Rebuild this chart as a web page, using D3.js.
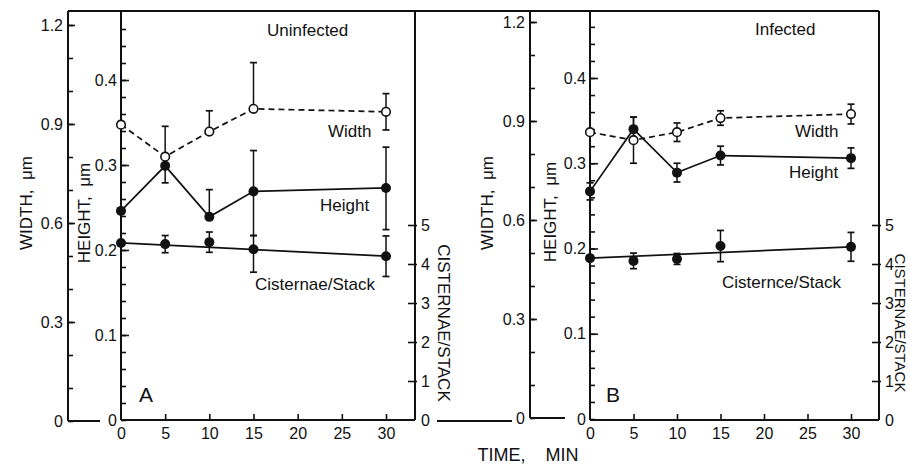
<!DOCTYPE html>
<html>
<head>
<meta charset="utf-8">
<script src="https://cdn.jsdelivr.net/npm/d3@7/dist/d3.min.js"></script>
<style>
  html, body { margin: 0; padding: 0; background: #fff; }
  svg { display: block; }
  text { font-family: "Liberation Sans", Arial, sans-serif; fill: #111; }
</style>
</head>
<body>
<svg id="chart" width="910" height="465"></svg>
<script>
// ---------------- DATA ----------------
const times = [0, 5, 10, 15, 30];
const xTickValues = [0, 5, 10, 15, 20, 25, 30];
const widthTickValues = [0, 0.3, 0.6, 0.9, 1.2];
const heightTickValues = [0, 0.1, 0.2, 0.3, 0.4];
const cistTickValues = [0, 1, 2, 3, 4, 5];

const panelLetters = ["A", "B"];
const panelTitles = ["Uninfected", "Infected"];
const seriesLabelsA = ["Width", "Height", "Cisternae/Stack"];
const seriesLabelsB = ["Width", "Height", "Cisternce/Stack"];
const axisTitleWidth = "WIDTH,  \u03BCm";
const axisTitleHeight = "HEIGHT,  \u03BCm";
const axisTitleCist = "CISTERNAE/STACK";
const axisTitleTime = "TIME,    MIN";

// Panel A (uninfected)
const widthA     = [0.898, 0.801, 0.877, 0.946, 0.937];
const widthAUp   = [0, 0.092, 0.063, 0.140, 0.055];
const widthADn   = [0, 0, 0, 0, 0.055];
const heightA    = [0.246, 0.299, 0.239, 0.269, 0.273];
const heightAUp  = [0, 0, 0.032, 0.048, 0.048];
const heightADn  = [0, 0.020, 0, 0.052, 0.049];
const cistA      = [4.54, 4.51, 4.56, 4.38, 4.20];
const cistAUp    = [0, 0.22, 0.26, 0.35, 0.52];
const cistADn    = [0, 0.22, 0.26, 0.59, 0.52];

// Panel B (infected)
const widthB     = [0.866, 0.842, 0.866, 0.909, 0.921];
const widthBUp   = [0, 0.070, 0.028, 0.022, 0.030];
const widthBDn   = [0, 0.070, 0.028, 0.022, 0.030];
const heightB    = [0.267, 0.340, 0.289, 0.309, 0.306];
const heightBUp  = [0.010, 0.014, 0.011, 0.011, 0.012];
const heightBDn  = [0.010, 0.014, 0.011, 0.011, 0.012];
const cistB      = [4.15, 4.08, 4.13, 4.46, 4.44];
const cistBUp    = [0, 0.20, 0.14, 0.40, 0.37];
const cistBDn    = [0, 0.20, 0.14, 0.40, 0.37];

// ---------------- LAYOUT ----------------
const svg = d3.select("#chart");
const FONT = 16;
const TOP = 11;

const panels = [
  {
    letter: panelLetters[0], title: panelTitles[0], labels: seriesLabelsA,
    width: [widthA, widthAUp, widthADn], height: [heightA, heightAUp, heightADn], cist: [cistA, cistAUp, cistADn],
    wX: 68, wRange: [421, 25], hX: 121, hRange: [420, 80], cX: 415, cRange: [420, 225],
    xRange: [121, 386], bottom: 420,
    wBottomEnd: 100,
    titlePos: [267, 36], letterPos: [139, 402],
    labelPos: [[328, 137], [320, 211], [255, 290]],
    wTitle: [32, 203], hTitle: [90, 213], cTitle: [438, 323], cFont: 17
  },
  {
    letter: panelLetters[1], title: panelTitles[1], labels: seriesLabelsB,
    width: [widthB, widthBUp, widthBDn], height: [heightB, heightBUp, heightBDn], cist: [cistB, cistBUp, cistBDn],
    wX: 530, wRange: [418, 22], hX: 590, hRange: [419, 78], cX: 879, cRange: [420, 225],
    xRange: [590, 851], bottom: 420,
    wBottomEnd: 565,
    titlePos: [755, 35], letterPos: [606, 402],
    labelPos: [[795, 137], [789, 178], [722, 288]],
    wTitle: [493, 203], hTitle: [556, 212], cTitle: [895, 323], cFont: 15
  }
];

const fmt = v => v === 0 ? "0" : d3.format(".1f")(v);

function styleAxis(sel, fontSize) {
  sel.selectAll("text").style("font-size", fontSize + "px").attr("fill", "#111");
  sel.selectAll("line").attr("stroke", "#111").attr("stroke-width", 1.6);
  sel.select(".domain").remove();
}

function errorBars(g, x, y, vals, up, dn) {
  const cap = 3.5;
  vals.forEach((v, i) => {
    if (up[i] <= 0 && dn[i] <= 0) return;
    const cx = x(times[i]);
    const y1 = y(v + up[i]), y2 = y(v - dn[i]);
    g.append("line").attr("x1", cx).attr("x2", cx).attr("y1", y1).attr("y2", y2)
      .attr("stroke", "#111").attr("stroke-width", 1.5);
    if (up[i] > 0) g.append("line").attr("x1", cx - cap).attr("x2", cx + cap).attr("y1", y1).attr("y2", y1)
      .attr("stroke", "#111").attr("stroke-width", 1.7);
    if (dn[i] > 0) g.append("line").attr("x1", cx - cap).attr("x2", cx + cap).attr("y1", y2).attr("y2", y2)
      .attr("stroke", "#111").attr("stroke-width", 1.7);
  });
}

panels.forEach(p => {
  const g = svg.append("g");
  const x = d3.scaleLinear().domain([0, 30]).range(p.xRange);
  const w = d3.scaleLinear().domain([0, 1.2]).range(p.wRange);
  const h = d3.scaleLinear().domain([0, 0.4]).range(p.hRange);
  const c = d3.scaleLinear().domain([0, 5]).range(p.cRange);

  // frame lines
  const frame = g.append("g").attr("stroke", "#111").attr("stroke-width", 2).attr("fill", "none");
  frame.append("line").attr("x1", p.wX).attr("x2", p.wX).attr("y1", TOP).attr("y2", p.wRange[0]);
  frame.append("line").attr("x1", p.wX).attr("x2", p.wBottomEnd).attr("y1", p.wRange[0]).attr("y2", p.wRange[0]);
  frame.append("line").attr("x1", p.hX).attr("x2", p.hX).attr("y1", TOP).attr("y2", p.bottom);
  frame.append("line").attr("x1", p.hX).attr("x2", p.cX).attr("y1", p.bottom).attr("y2", p.bottom);
  frame.append("line").attr("x1", p.cX).attr("x2", p.cX).attr("y1", TOP).attr("y2", p.bottom);

  // width axis
  const wMinor = g.append("g").attr("transform", `translate(${p.wX},0)`)
    .call(d3.axisLeft(w).tickValues(d3.range(0, 1.25, 0.1)).tickSize(-5).tickFormat(""));
  styleAxis(wMinor, FONT);
  const wAxis = g.append("g").attr("transform", `translate(${p.wX},0)`)
    .call(d3.axisLeft(w).tickValues(widthTickValues).tickSize(-7).tickPadding(5).tickFormat(fmt));
  styleAxis(wAxis, FONT);
  wAxis.selectAll(".tick").filter(d => d === 0).select("line").remove();

  // height axis
  const hMinor = g.append("g").attr("transform", `translate(${p.hX},0)`)
    .call(d3.axisLeft(h).tickValues(d3.range(0, 0.465, 0.02)).tickSize(-5).tickFormat(""));
  styleAxis(hMinor, FONT);
  const hAxis = g.append("g").attr("transform", `translate(${p.hX},0)`)
    .call(d3.axisLeft(h).tickValues(heightTickValues).tickSize(-8).tickPadding(4).tickFormat(fmt));
  styleAxis(hAxis, FONT);
  hAxis.selectAll(".tick").filter(d => d === 0).select("line").remove();

  // x axis
  const xAxis = g.append("g").attr("transform", `translate(0,${p.bottom})`)
    .call(d3.axisBottom(x).tickValues(xTickValues).tickSize(-6).tickPadding(8).tickFormat(d3.format("d")));
  styleAxis(xAxis, FONT);
  xAxis.selectAll(".tick").filter(d => d === 0).select("line").remove();

  // cisternae axis
  const cAxis = g.append("g").attr("transform", `translate(${p.cX},0)`)
    .call(d3.axisRight(c).tickValues(cistTickValues).tickSize(-7).tickPadding(6).tickFormat(d3.format("d")));
  styleAxis(cAxis, FONT);
  cAxis.selectAll(".tick line").attr("x2", -7).attr("x1", 2);
  cAxis.selectAll(".tick").filter(d => d === 0).select("line").remove();

  // series lines
  const lineW = d3.line().x((d, i) => x(times[i])).y(d => w(d));
  const lineH = d3.line().x((d, i) => x(times[i])).y(d => h(d));
  g.append("path").attr("d", lineW(p.width[0])).attr("fill", "none")
    .attr("stroke", "#111").attr("stroke-width", 1.7).attr("stroke-dasharray", "6,4");
  g.append("path").attr("d", lineH(p.height[0])).attr("fill", "none")
    .attr("stroke", "#111").attr("stroke-width", 1.7);
  // cisternae: straight line between first and last measurement
  const cv = p.cist[0];
  const n = cv.length - 1;
  g.append("line").attr("x1", x(times[0])).attr("y1", c(cv[0]))
    .attr("x2", x(times[n])).attr("y2", c(cv[n]))
    .attr("stroke", "#111").attr("stroke-width", 1.7);

  // error bars
  errorBars(g, x, w, p.width[0], p.width[1], p.width[2]);
  errorBars(g, x, h, p.height[0], p.height[1], p.height[2]);
  errorBars(g, x, c, p.cist[0], p.cist[1], p.cist[2]);

  // points
  g.selectAll(null).data(p.height[0]).join("circle")
    .attr("cx", (d, i) => x(times[i])).attr("cy", d => h(d)).attr("r", 5).attr("fill", "#111");
  g.selectAll(null).data(p.cist[0]).join("circle")
    .attr("cx", (d, i) => x(times[i])).attr("cy", d => c(d)).attr("r", 5).attr("fill", "#111");
  g.selectAll(null).data(p.width[0]).join("circle")
    .attr("cx", (d, i) => x(times[i])).attr("cy", d => w(d)).attr("r", 4.3)
    .attr("fill", "#fff").attr("stroke", "#111").attr("stroke-width", 1.6);

  // texts
  g.append("text").attr("x", p.titlePos[0]).attr("y", p.titlePos[1]).style("font-size", "17px").text(p.title);
  g.append("text").attr("x", p.letterPos[0]).attr("y", p.letterPos[1]).style("font-size", "21px").text(p.letter);
  p.labels.forEach((t, i) => {
    g.append("text").attr("x", p.labelPos[i][0]).attr("y", p.labelPos[i][1]).style("font-size", "17px").text(t);
  });
  g.append("text").attr("transform", `translate(${p.wTitle[0]},${p.wTitle[1]}) rotate(-90)`)
    .attr("text-anchor", "middle").style("font-size", "17px").style("white-space", "pre").text(axisTitleWidth);
  g.append("text").attr("transform", `translate(${p.hTitle[0]},${p.hTitle[1]}) rotate(-90)`)
    .attr("text-anchor", "middle").style("font-size", "17px").style("white-space", "pre").text(axisTitleHeight);
  g.append("text").attr("transform", `translate(${p.cTitle[0]},${p.cTitle[1]}) rotate(90)`)
    .attr("text-anchor", "middle").style("font-size", p.cFont + "px").text(axisTitleCist);
});

// shared top line and connector between panels
svg.append("line").attr("x1", panels[0].wX).attr("x2", panels[1].cX).attr("y1", TOP).attr("y2", TOP)
  .attr("stroke", "#111").attr("stroke-width", 2);
svg.append("line").attr("x1", 437).attr("x2", 512).attr("y1", 421).attr("y2", 421)
  .attr("stroke", "#111").attr("stroke-width", 2);

// time axis title
svg.append("text").attr("x", 528).attr("y", 461).attr("text-anchor", "middle")
  .style("font-size", "18px").style("white-space", "pre").text(axisTitleTime);
</script>
</body>
</html>
